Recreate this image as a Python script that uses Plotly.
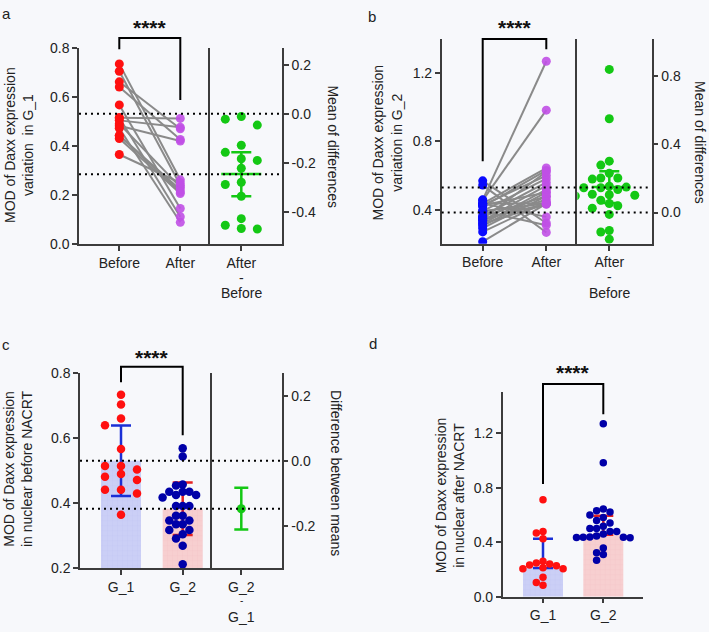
import numpy as np
import plotly.graph_objects as go

W, H = 709, 632
FONT = "Arial, 'Liberation Sans', Helvetica, sans-serif"
BG = "#f7f8fb"
AX = "#3c3c3c"

# ---------------- data ----------------
cats_pair = ["Before", "After"]
cats_group = ["G_1", "G_2"]
diff_label_ab = ["After", "-", "Before"]
diff_label_c = ["G_2", "-", "G_1"]

# G_1 before / after (paired, same order)
g1_before = [0.734, 0.704, 0.661, 0.640, 0.567, 0.515, 0.515, 0.504, 0.490, 0.482,
             0.472, 0.442, 0.442, 0.430, 0.365]
g1_after = [0.262, 0.240, 0.470, 0.426, 0.145, 0.512, 0.112, 0.476, 0.232, 0.420,
            0.089, 0.222, 0.212, 0.206, 0.250]
g1_diff = [-0.011, -0.022, -0.046, -0.128, -0.157, -0.183, -0.190, -0.222, -0.279, -0.288,
           -0.336, -0.427, -0.454, -0.467, -0.469]
g1_diff_ci = [-0.336, -0.157]

# G_2 before / after (paired, same order)
g2_before = [0.569, 0.544, 0.458, 0.455, 0.436, 0.436, 0.436, 0.426, 0.426, 0.418,
             0.392, 0.392, 0.392, 0.362, 0.362, 0.347, 0.347, 0.336, 0.336, 0.318,
             0.318, 0.305, 0.292, 0.270, 0.213]
g2_after = [0.322, 0.267, 1.269, 0.983, 0.644, 0.438, 0.358, 0.600, 0.501, 0.630,
            0.582, 0.436, 0.309, 0.560, 0.479, 0.622, 0.434, 0.541, 0.460, 0.518,
            0.432, 0.501, 0.479, 0.446, 0.436]
g2_diff = [0.838, 0.549, 0.301, 0.278, 0.230, 0.202, 0.202, 0.196, 0.154, 0.104,
           0.149, 0.145, 0.145, 0.135, 0.107, 0.101, 0.097, 0.072, 0.053, 0.040,
           0.025, -0.011, -0.105, -0.114, -0.156]
g2_diff_ci = [0.056, 0.242]

# difference between means (panel c), 95% CI
means_diff_ci = [-0.211, -0.083]

# panel d: nuclear after NACRT
d_g1 = [0.711, 0.478, 0.468, 0.425, 0.260, 0.248, 0.240, 0.232, 0.228, 0.212,
        0.205, 0.205, 0.143, 0.105, 0.085]
d_g2 = g2_after
d_bar = [0.21, 0.455]
d_err_hi = [0.425, 0.595]

# ---------------- colours ----------------
RED = "#ff1010"
PURPLE = "#c04fe6"
BLUE = "#0a0aff"
NAVY = "#0000a8"
GREEN = "#14c814"
GRAY = "#8a8a8a"
BAR1 = "#cbcff6"
BAR2 = "#f7cfd0"
BAR1_G = "#b9bef0"
BAR2_G = "#efbcbd"
ERR1 = "#1a2fd6"
ERR2 = "#e52222"

# ---------------- geometry (pixels) ----------------
G = {
    "a": dict(x1=(79, 210), x2=(210, 282), y=(40.7, 242.3), c0=119.3, gap=61.0, dx=241.3,
              yr=(0.0, 0.8)),
    "b": dict(x1=(441.7, 577.3), x2=(577.3, 651.7), y=(31.7, 242.0), c0=482.7, gap=63.6, dx=609.3,
              yr=(0.2, 1.4)),
    "c": dict(x1=(80, 212), x2=(212, 281.7), y=(374.7, 575.0), c0=121.0, gap=61.7, dx=241.3,
              yr=(0.2, 0.8)),
    "d": dict(x1=(502.7, 643.3), y=(394.3, 604.0), c0=543.0, gap=60.3, yr=(0.0, 1.5)),
}


def pxx(v):
    return v / W


def pxy(v):
    return 1 - v / H


def swarm(vals, ppu, d, step=None, thr=0.95):
    step = step or d
    placed = []
    res = [0.0] * len(vals)
    order = sorted(range(len(vals)), key=lambda i: -vals[i])
    cands = [0.0]
    for n in range(1, 30):
        cands += [-n * step, n * step]
    for i in order:
        y = vals[i] * ppu
        for c in cands:
            if all((c - a) ** 2 + (y - b) ** 2 >= (d * thr) ** 2 - 1e-6 for a, b in placed):
                res[i] = c
                placed.append((c, y))
                break
    return res


fig = go.Figure()

base_ax = dict(showline=True, linecolor=AX, linewidth=1.5, ticks="outside", ticklen=5,
               tickwidth=1.5, tickcolor=AX, showgrid=False, zeroline=False,
               tickfont=dict(size=14, color="#222", family=FONT), fixedrange=True)


def fmt(v):
    return f"{v:.1f}"


layout = {}
shapes = []
annotations = []


def label(text, x, y, angle=0, size=14, color="#222"):
    annotations.append(dict(text=text, x=pxx(x), y=pxy(y), xref="paper", yref="paper", showarrow=False,
                            textangle=angle, font=dict(size=size, color=color, family=FONT),
                            xanchor="center", yanchor="middle"))


def stacked_ticklabel(lines, x, ys, sizes=(14, 14)):
    # first line is the axis tick label; the rest are stacked below it
    for t, yy, sz in zip(lines[1:], ys, sizes):
        label(t, x, yy, size=sz)


def ppu_of(g):
    return (g["y"][1] - g["y"][0]) / (g["yr"][1] - g["yr"][0])


def bar_marker(color, grid):
    return dict(color=color, line=dict(width=0),
                pattern=dict(shape="+", fgcolor=grid, bgcolor=color, size=5, solidity=0.15))


def paired_panel(g, ids, before, after, col_b, col_a, ltick, rtick, msize=9):
    xa, ya, xb, yb = ids
    gap = g["gap"]
    mb, ma = float(np.mean(before)), float(np.mean(after))
    yr = g["yr"]
    yr2 = (yr[0] - mb, yr[1] - mb)
    ydom = [pxy(g["y"][1]), pxy(g["y"][0])]
    layout["xaxis" + xa[1:]] = dict(base_ax, domain=[pxx(g["x1"][0]), pxx(g["x1"][1])],
                                    range=[g["x1"][0] - g["c0"], g["x1"][1] - g["c0"]],
                                    anchor=ya, tickvals=[0, gap], ticktext=cats_pair)
    layout["yaxis" + ya[1:]] = dict(base_ax, domain=ydom, range=list(yr), anchor=xa,
                                    tickvals=ltick, ticktext=[fmt(v) for v in ltick])
    layout["xaxis" + xb[1:]] = dict(base_ax, domain=[pxx(g["x2"][0]), pxx(g["x2"][1])],
                                    range=[g["x2"][0] - g["dx"], g["x2"][1] - g["dx"]],
                                    anchor=yb, tickvals=[0], ticktext=[diff_label_ab[0]])
    yb0 = g["y"][1]
    stacked_ticklabel(diff_label_ab, g["dx"], (yb0 + 34.3, yb0 + 50))
    layout["yaxis" + yb[1:]] = dict(base_ax, domain=ydom, range=list(yr2), anchor=xb, side="right",
                                    mirror=True, tickvals=rtick, ticktext=[fmt(v) for v in rtick])
    # connecting lines
    lx, ly = [], []
    for b, a in zip(before, after):
        lx += [0, gap, None]
        ly += [b, a, None]
    fig.add_trace(go.Scatter(x=lx, y=ly, mode="lines", line=dict(color=GRAY, width=2),
                             xaxis=xa, yaxis=ya, hoverinfo="skip"))
    fig.add_trace(go.Scatter(x=[0] * len(before), y=before, mode="markers",
                             marker=dict(color=col_b, size=msize), xaxis=xa, yaxis=ya))
    fig.add_trace(go.Scatter(x=[gap] * len(after), y=after, mode="markers",
                             marker=dict(color=col_a, size=msize, opacity=0.9), xaxis=xa, yaxis=ya))
    return mb, ma


def diff_column(g, xb, yb, diff, ci, msize, step, thr, half):
    offs = swarm(diff, ppu_of(g), msize, step=step, thr=thr)
    fig.add_trace(go.Scatter(x=offs, y=diff, mode="markers", marker=dict(color=GREEN, size=msize),
                             xaxis=xb, yaxis=yb))
    md = float(np.mean(diff))
    fig.add_trace(go.Scatter(x=[-half, half], y=[md, md], mode="lines", line=dict(color=GREEN, width=2.5),
                             xaxis=xb, yaxis=yb))
    fig.add_trace(go.Scatter(x=[0], y=[md], mode="markers", marker=dict(size=1, color=GREEN),
                             error_y=dict(type="data", symmetric=False, array=[ci[1] - md],
                                          arrayminus=[md - ci[0]], color=GREEN, thickness=2.5, width=10),
                             xaxis=xb, yaxis=yb))


def mean_lines(g, ya, means):
    for m in means:
        shapes.append(dict(type="line", xref="paper", yref=ya, x0=pxx(g["x1"][0]), x1=pxx(g["x2"][1]),
                           y0=m, y1=m, line=dict(color="black", width=2, dash="2px,4px")))


mba, maa = paired_panel(G["a"], ("x", "y", "x2", "y2"), g1_before, g1_after,
                        RED, PURPLE, [0.0, 0.2, 0.4, 0.6, 0.8], [-0.4, -0.2, 0.0, 0.2])
diff_column(G["a"], "x2", "y2", g1_diff, g1_diff_ci, 9, 16, 1.0, 20)
mean_lines(G["a"], "y", (mba, maa))

mbb, mab = paired_panel(G["b"], ("x3", "y3", "x4", "y4"), g2_before, g2_after,
                        BLUE, PURPLE, [0.4, 0.8, 1.2], [0.0, 0.4, 0.8])
diff_column(G["b"], "x4", "y4", g2_diff, g2_diff_ci, 9, 8.5, 0.95, 17.5)
mean_lines(G["b"], "y3", (mbb, mab))

# ---------------- panel c ----------------
g = G["c"]
m1, m2 = float(np.mean(g1_before)), float(np.mean(g2_before))
s1, s2 = float(np.std(g1_before, ddof=1)), float(np.std(g2_before, ddof=1))
ydom = [pxy(g["y"][1]), pxy(g["y"][0])]
layout["xaxis5"] = dict(base_ax, domain=[pxx(g["x1"][0]), pxx(g["x1"][1])],
                        range=[g["x1"][0] - g["c0"], g["x1"][1] - g["c0"]], anchor="y5",
                        tickvals=[0, g["gap"]], ticktext=cats_group)
lt = [0.2, 0.4, 0.6, 0.8]
layout["yaxis5"] = dict(base_ax, domain=ydom, range=list(g["yr"]), anchor="x5",
                        tickvals=lt, ticktext=[fmt(v) for v in lt])
layout["xaxis6"] = dict(base_ax, domain=[pxx(g["x2"][0]), pxx(g["x2"][1])],
                        range=[g["x2"][0] - g["dx"], g["x2"][1] - g["dx"]], anchor="y6",
                        tickvals=[0], ticktext=[diff_label_c[0]])
stacked_ticklabel(diff_label_c, g["dx"], (g["y"][1] + 33, g["y"][1] + 49.5), sizes=(10, 14))
rt = [-0.2, 0.0, 0.2]
layout["yaxis6"] = dict(base_ax, domain=ydom, range=[g["yr"][0] - m1, g["yr"][1] - m1], anchor="x6",
                        side="right", mirror=True, tickvals=rt, ticktext=[fmt(v) for v in rt])
for xpos, m, s, bc, gc_, ec in ((0, m1, s1, BAR1, BAR1_G, ERR1), (g["gap"], m2, s2, BAR2, BAR2_G, ERR2)):
    fig.add_trace(go.Bar(x=[xpos], y=[m], width=40, marker=bar_marker(bc, gc_),
                         error_y=dict(type="data", array=[s], color=ec, thickness=2.5, width=10),
                         xaxis="x5", yaxis="y5"))
ppu = ppu_of(g)
o1 = swarm(g1_before, ppu, 8, step=16, thr=1.0)
o2 = swarm(g2_before, ppu, 8, step=6.7, thr=0.83)
fig.add_trace(go.Scatter(x=o1, y=g1_before, mode="markers", marker=dict(color=RED, size=8.5),
                         xaxis="x5", yaxis="y5"))
fig.add_trace(go.Scatter(x=[g["gap"] + o for o in o2], y=g2_before, mode="markers",
                         marker=dict(color=NAVY, size=8.5), xaxis="x5", yaxis="y5"))
md = m2 - m1
fig.add_trace(go.Scatter(x=[0], y=[md], mode="markers", marker=dict(color=GREEN, size=9),
                         error_y=dict(type="data", symmetric=False, array=[means_diff_ci[1] - md],
                                      arrayminus=[md - means_diff_ci[0]], color=GREEN, thickness=2.5,
                                      width=7),
                         xaxis="x6", yaxis="y6"))
mean_lines(g, "y5", (m1, m2))

# ---------------- panel d ----------------
g = G["d"]
ydom = [pxy(g["y"][1]), pxy(g["y"][0])]
layout["xaxis7"] = dict(base_ax, domain=[pxx(g["x1"][0]), pxx(g["x1"][1])],
                        range=[g["x1"][0] - g["c0"], g["x1"][1] - g["c0"]], anchor="y7",
                        tickvals=[0, g["gap"]], ticktext=cats_group)
lt = [0.0, 0.4, 0.8, 1.2]
layout["yaxis7"] = dict(base_ax, domain=ydom, range=list(g["yr"]), anchor="x7",
                        tickvals=lt, ticktext=[fmt(v) for v in lt])
for xpos, b, hi, bc, gc_, ec in ((0, d_bar[0], d_err_hi[0], BAR1, BAR1_G, ERR1),
                                 (g["gap"], d_bar[1], d_err_hi[1], BAR2, BAR2_G, ERR2)):
    fig.add_trace(go.Bar(x=[xpos], y=[b], width=40, marker=bar_marker(bc, gc_),
                         error_y=dict(type="data", symmetric=False, array=[hi - b], arrayminus=[0],
                                      color=ec, thickness=2.5, width=10),
                         xaxis="x7", yaxis="y7"))
ppu = ppu_of(g)
o1 = swarm(d_g1, ppu, 7, step=6.7, thr=0.95)
o2 = swarm(d_g2, ppu, 7, step=6.7, thr=0.95)
fig.add_trace(go.Scatter(x=o1, y=d_g1, mode="markers", marker=dict(color=RED, size=7.5),
                         xaxis="x7", yaxis="y7"))
fig.add_trace(go.Scatter(x=[g["gap"] + o for o in o2], y=d_g2, mode="markers",
                         marker=dict(color=NAVY, size=7.5), xaxis="x7", yaxis="y7"))


# ---------------- brackets & stars ----------------
def bracket(xl, xr, ytop, yl, yr_, star_y):
    shapes.append(dict(type="path", xref="paper", yref="paper",
                       path=f"M {pxx(xl)},{pxy(yl)} L {pxx(xl)},{pxy(ytop)} L {pxx(xr)},{pxy(ytop)} L {pxx(xr)},{pxy(yr_)}",
                       line=dict(color="black", width=2)))
    annotations.append(dict(text="<b>****</b>", x=pxx((xl + xr) / 2), y=pxy(star_y), xref="paper",
                            yref="paper", showarrow=False, font=dict(size=21, color="#111", family=FONT),
                            xanchor="center", yanchor="middle"))


ga, gb, gc, gd = G["a"], G["b"], G["c"], G["d"]
bracket(ga["c0"], ga["c0"] + ga["gap"], 30.7, 42.3, 94.3, 20)
bracket(gb["c0"], gb["c0"] + gb["gap"], 31.7, 157.3, 42.3, 20)
bracket(gc["c0"], gc["c0"] + gc["gap"], 368.0, 384.0, 438.3, 358.5)
bracket(gd["c0"], gd["c0"] + gd["gap"], 385.7, 488.3, 416.7, 374)

label("MOD of Daxx expression<br>variation\u00a0 in G_1", 19.5, 141, -90)
label("Mean of differences", 333, 142, 90)
label("MOD of Daxx expression<br>variation in G_2", 387, 138, -90)
label("Mean of differences", 700, 137.5, 90)
label("MOD of Daxx expression<br>in nuclear before NACRT", 18, 473, -90)
label("Difference between means", 336.7, 476.7, 90)
label("MOD of Daxx expression<br>in nuclear after NACRT", 450, 500, -90)
label("a", 6, 6, 0, 15)
label("b", 372, 9, 0, 15)
label("c", 6, 345, 0, 15)
label("d", 373, 344, 0, 15)

fig.update_layout(width=W, height=H, margin=dict(l=0, r=0, t=0, b=0), showlegend=False,
                  paper_bgcolor=BG, plot_bgcolor=BG, barmode="overlay",
                  font=dict(family=FONT, size=14, color="#222"),
                  shapes=shapes, annotations=annotations, **layout)

fig.write_html("out.html")
